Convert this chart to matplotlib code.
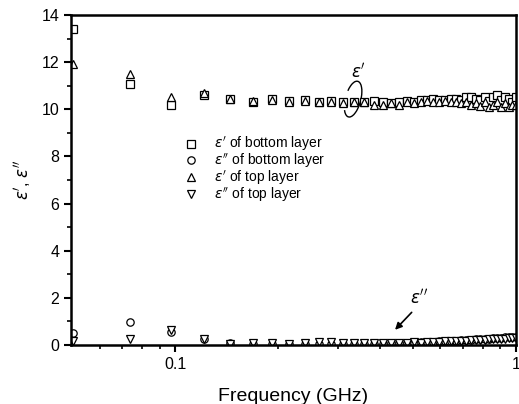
import matplotlib
matplotlib.use("Agg")
import matplotlib.pyplot as plt
from matplotlib.patches import Arc
from matplotlib.ticker import FixedLocator, NullFormatter

plt.rcParams['font.family'] = ['Liberation Sans', 'DejaVu Sans']
plt.rcParams['mathtext.fontset'] = 'dejavusans'

freq = [0.05, 0.07375, 0.0975, 0.12125, 0.145, 0.16875, 0.1925, 0.21625, 0.24,
        0.26375, 0.2875, 0.31125, 0.335, 0.35875, 0.3825, 0.40625, 0.43, 0.45375,
        0.4775, 0.50125, 0.525, 0.54875, 0.5725, 0.59625, 0.62, 0.64375, 0.6675,
        0.69125, 0.715, 0.73875, 0.7625, 0.78625, 0.81, 0.83375, 0.8575, 0.88125,
        0.905, 0.92875, 0.9525, 0.97625, 1.0]

eps1_bottom = [13.4, 11.07, 10.2, 10.6, 10.42, 10.3, 10.45, 10.35, 10.4,
               10.3, 10.35, 10.3, 10.3, 10.3, 10.35, 10.3, 10.25, 10.3,
               10.35, 10.3, 10.4, 10.4, 10.45, 10.4, 10.4, 10.45, 10.45,
               10.4, 10.5, 10.5, 10.45, 10.4, 10.5, 10.35, 10.5, 10.6,
               10.4, 10.5, 10.45, 10.3, 10.5]
eps2_bottom = [0.5, 0.98, 0.55, 0.25, 0.1, 0.05, 0.05, 0.05, 0.05,
               0.05, 0.05, 0.05, 0.05, 0.05, 0.06, 0.06, 0.08, 0.08,
               0.1, 0.1, 0.12, 0.12, 0.14, 0.15, 0.16, 0.17, 0.18,
               0.2, 0.2, 0.22, 0.24, 0.24, 0.26, 0.27, 0.28, 0.3,
               0.3, 0.32, 0.33, 0.34, 0.36]
eps1_top = [11.9, 11.5, 10.5, 10.7, 10.45, 10.35, 10.4, 10.3, 10.35,
            10.3, 10.3, 10.25, 10.3, 10.3, 10.2, 10.2, 10.25, 10.2,
            10.3, 10.25, 10.3, 10.35, 10.3, 10.3, 10.35, 10.3, 10.3,
            10.25, 10.3, 10.2, 10.25, 10.15, 10.3, 10.1, 10.2, 10.3,
            10.1, 10.25, 10.1, 10.2, 10.2]
eps2_top = [0.15, 0.25, 0.65, 0.25, 0.05, 0.08, 0.08, 0.05, 0.1,
            0.12, 0.12, 0.08, 0.08, 0.1, 0.1, 0.08, 0.08, 0.1,
            0.1, 0.12, 0.1, 0.12, 0.12, 0.14, 0.15, 0.15, 0.16,
            0.18, 0.18, 0.2, 0.2, 0.22, 0.22, 0.24, 0.24, 0.25,
            0.26, 0.27, 0.28, 0.28, 0.3]

labels = ["$\\epsilon'$ of bottom layer", "$\\epsilon''$ of bottom layer",
          "$\\epsilon'$ of top layer", "$\\epsilon''$ of top layer"]

fig = plt.figure(figsize=(5.19, 4.04), dpi=100)
ax = fig.add_axes([0.137, 0.146, 0.857, 0.817])

mk = dict(linestyle='none', markerfacecolor='white', markeredgecolor='black',
          markeredgewidth=0.9, markersize=5.3)
ax.plot(freq, eps1_bottom, marker='s', label=labels[0], **mk)
ax.plot(freq, eps2_bottom, marker='o', label=labels[1], **mk)
ax.plot(freq, eps1_top, marker='^', label=labels[2], **mk)
ax.plot(freq, eps2_top, marker='v', label=labels[3], **mk)

ax.set_xscale('log')
ax.set_xlim(0.0495, 1.0)
ax.set_ylim(0, 14)
ax.xaxis.set_major_locator(FixedLocator([0.1, 1]))
ax.set_xticklabels(['0.1', '1'])
ax.xaxis.set_minor_locator(FixedLocator([0.06, 0.07, 0.08, 0.09, 0.2, 0.3, 0.4,
                                         0.5, 0.6, 0.7, 0.8, 0.9]))
ax.xaxis.set_minor_formatter(NullFormatter())
ax.set_yticks([0, 2, 4, 6, 8, 10, 12, 14])
ax.set_yticks([1, 3, 5, 7, 9, 11, 13], minor=True)

ax.tick_params(which='major', direction='out', length=5, width=1.5, labelsize=11.5)
ax.tick_params(which='minor', direction='out', length=3, width=1.2)
for s in ax.spines.values():
    s.set_linewidth(1.8)

ax.set_xlabel('Frequency (GHz)', fontsize=14, labelpad=12)
ax.set_ylabel("$\\epsilon'$, $\\epsilon''$", fontsize=12, labelpad=6)

leg = ax.legend(loc='upper left', bbox_to_anchor=(0.225, 0.665), frameon=False,
                fontsize=10, handletextpad=0.9, labelspacing=-0.1,
                handlelength=1.5, borderpad=0.2)

# annotations
ax.text(0.645, 0.83, "$\\epsilon'$", transform=ax.transAxes, fontsize=12,
        ha='center', va='center')
arc = Arc((0.634, 0.745), 0.035, 0.11, angle=-10, theta1=-110, theta2=125,
          transform=ax.transAxes, linewidth=1.0, color='black')
ax.add_patch(arc)
ax.text(0.783, 0.145, "$\\epsilon''$", transform=ax.transAxes, fontsize=12,
        ha='center', va='center')
ax.annotate('', xy=(0.724, 0.04), xytext=(0.77, 0.105),
            xycoords='axes fraction', textcoords='axes fraction',
            arrowprops=dict(arrowstyle='-|>', color='black', lw=1.2,
                            mutation_scale=10))

fig.savefig('out.png', dpi=100)
